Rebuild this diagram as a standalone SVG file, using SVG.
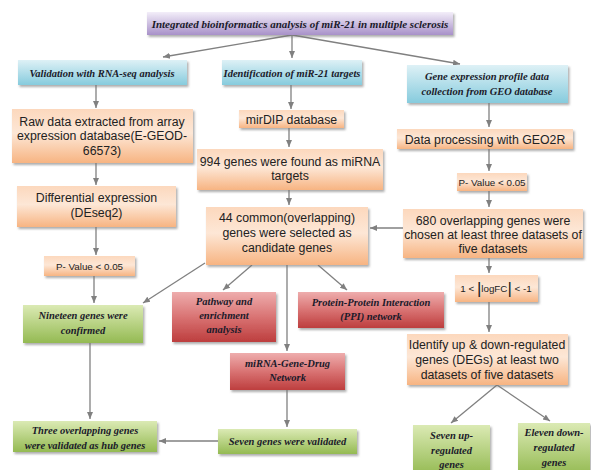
<svg xmlns="http://www.w3.org/2000/svg" width="591" height="470" viewBox="0 0 591 470">
<style>
.box{stroke:none;filter:url(#sh)}
.or{fill:url(#gOr)}
.bl{fill:url(#gBl)}
.gr{fill:url(#gGr)}
.rd{fill:url(#gRd)}
.pu{fill:url(#gPu)}
.hd{font-family:"Liberation Serif",serif;font-weight:bold;font-style:italic;font-size:10.5px;fill:#1a1a2a;text-anchor:middle}
.ttl{font-size:11px}
.tx{font-family:"Liberation Sans",Arial,sans-serif;font-size:12.3px;fill:#222;text-anchor:middle}
.sm{font-family:"Liberation Sans",Arial,sans-serif;font-size:9.8px;fill:#222;text-anchor:middle}
.cn{stroke:#808080;stroke-width:1.3;fill:none;marker-end:url(#ah)}
</style>
<defs>
<linearGradient id="gOr" x1="0" y1="0" x2="0" y2="1"><stop offset="0" stop-color="#fcd8bd"/><stop offset="0.45" stop-color="#fde7d6"/><stop offset="1" stop-color="#f7b482"/></linearGradient>
<linearGradient id="gBl" x1="0" y1="0" x2="0" y2="1"><stop offset="0" stop-color="#def1f6"/><stop offset="1" stop-color="#86cbdd"/></linearGradient>
<linearGradient id="gGr" x1="0" y1="0" x2="0" y2="1"><stop offset="0" stop-color="#dbeab4"/><stop offset="1" stop-color="#94ba52"/></linearGradient>
<linearGradient id="gRd" x1="0" y1="0" x2="0" y2="1"><stop offset="0" stop-color="#eeadad"/><stop offset="0.5" stop-color="#d97373"/><stop offset="1" stop-color="#bd3e3e"/></linearGradient>
<linearGradient id="gPu" x1="0" y1="0" x2="0" y2="1"><stop offset="0" stop-color="#f3eef9"/><stop offset="1" stop-color="#a891c9"/></linearGradient>
<filter id="sh" x="-10%" y="-10%" width="120%" height="130%"><feDropShadow dx="1.5" dy="2" stdDeviation="1.2" flood-color="#777" flood-opacity="0.6"/></filter>
<marker id="ah" markerWidth="8" markerHeight="8" refX="7" refY="4" orient="auto" markerUnits="userSpaceOnUse"><path d="M0,1 L7,4 L0,7 Z" fill="#808080"/></marker>
</defs>

<g id="connectors">
<path class="cn" d="M292,35 L163,57"/>
<path class="cn" d="M292,35 L292,58"/>
<path class="cn" d="M292,35 L460,64"/>
<path class="cn" d="M96,85 L96,108"/>
<path class="cn" d="M96,163 L96,185"/>
<path class="cn" d="M96,227 L96,255"/>
<path class="cn" d="M94,276 L94,303"/>
<path class="cn" d="M90,343 L90,419"/>
<path class="cn" d="M218,441 L159,441"/>
<path class="cn" d="M291,85 L291,109"/>
<path class="cn" d="M289,128 L289,147"/>
<path class="cn" d="M289,190 L289,205"/>
<path class="cn" d="M205,263 L143,303"/>
<path class="cn" d="M252,265 L223,290"/>
<path class="cn" d="M318,265 L347,290"/>
<path class="cn" d="M287,265 L287,351"/>
<path class="cn" d="M287,390 L287,427"/>
<path class="cn" d="M403,228 L370,228"/>
<path class="cn" d="M489,103 L489,127"/>
<path class="cn" d="M489,149 L489,171"/>
<path class="cn" d="M489,191 L489,207"/>
<path class="cn" d="M489,258 L489,273"/>
<path class="cn" d="M489,302 L489,332"/>
<path class="cn" d="M497,385 L451,423"/>
<path class="cn" d="M497,385 L550,421"/>
</g>

<g id="title"><rect class="box pu" x="147" y="12" width="306" height="23"/><text class="hd ttl" x="300" y="27.5">Integrated bioinformatics analysis of miR-21 in multiple sclerosis</text></g>

<g id="validation"><rect class="box bl" x="18" y="60" width="169" height="25"/><text class="hd" x="102" y="76.5">Validation with RNA-seq analysis</text></g>
<g id="identification"><rect class="box bl" x="222" y="60" width="140" height="25"/><text class="hd" x="292" y="76.5">Identification of miR-21 targets</text></g>
<g id="geneexpr"><rect class="box bl" x="407" y="65" width="161" height="38"/><text class="hd" x="487" y="80">Gene expression profile data</text><text class="hd" x="487" y="95">collection from GEO database</text></g>

<g id="rawdata"><rect class="box or" x="12" y="109" width="181" height="54"/><text class="tx" x="102" y="126">Raw data extracted from array</text><text class="tx" x="102" y="140">expression database(E-GEOD-</text><text class="tx" x="102" y="155">66573)</text></g>
<g id="diffexpr"><rect class="box or" x="17" y="186" width="159" height="41"/><text class="tx" x="96.5" y="202">Differential expression</text><text class="tx" x="96.5" y="217">(DEseq2)</text></g>
<g id="pval1"><rect class="box or" x="44" y="256" width="91" height="20"/><text class="sm" x="89.5" y="270">P- Value &lt; 0.05</text></g>
<g id="nineteen"><rect class="box gr" x="23" y="305" width="120" height="38"/><text class="hd" x="83" y="319">Nineteen genes were</text><text class="hd" x="83" y="334">confirmed</text></g>
<g id="threeoverlap"><rect class="box gr" x="13" y="421" width="144" height="31"/><text class="hd" x="85" y="434">Three overlapping genes</text><text class="hd" x="85" y="449">were validated as hub genes</text></g>

<g id="mirdip"><rect class="box or" x="239" y="110" width="105" height="18"/><text class="tx" x="291.5" y="123.5">mirDIP database</text></g>
<g id="genes994"><rect class="box or" x="197" y="149" width="186" height="41"/><text class="tx" x="290" y="166">994 genes were found as miRNA</text><text class="tx" x="290" y="180">targets</text></g>
<g id="common44"><rect class="box or" x="206" y="207" width="162" height="58"/><text class="tx" x="287" y="222">44 common(overlapping)</text><text class="tx" x="287" y="237">genes were selected as</text><text class="tx" x="287" y="252">candidate genes</text></g>
<g id="pathway"><rect class="box rd" x="172" y="292" width="104" height="50"/><text class="hd" x="224" y="305">Pathway and</text><text class="hd" x="224" y="319">enrichment</text><text class="hd" x="224" y="333">analysis</text></g>
<g id="ppi"><rect class="box rd" x="298" y="292" width="146" height="36"/><text class="hd" x="371" y="306">Protein-Protein Interaction</text><text class="hd" x="371" y="320">(PPI) network</text></g>
<g id="mirnanet"><rect class="box rd" x="230" y="353" width="115" height="37"/><text class="hd" x="287.5" y="367">miRNA-Gene-Drug</text><text class="hd" x="287.5" y="381">Network</text></g>
<g id="sevenvalid"><rect class="box gr" x="218" y="429" width="139" height="25"/><text class="hd" x="287.5" y="445">Seven genes were validated</text></g>

<g id="dataproc"><rect class="box or" x="397" y="129" width="176" height="20"/><text class="tx" x="485" y="143.5">Data processing with GEO2R</text></g>
<g id="pval2"><rect class="box or" x="457" y="173" width="70" height="18"/><text class="sm" x="492" y="186">P- Value &lt; 0.05</text></g>
<g id="overlap680"><rect class="box or" x="403" y="209" width="180" height="49"/><text class="tx" x="493" y="225">680 overlapping genes were</text><text class="tx" x="493" y="239">chosen at least three datasets of</text><text class="tx" x="493" y="253">five datasets</text></g>
<g id="logfc"><rect class="box or" x="455" y="275" width="83" height="27"/><text class="sm" x="496" y="292">1 &lt; <tspan font-size="17" dy="1.5">|</tspan><tspan dy="-1.5">logFC</tspan><tspan font-size="17" dy="1.5">|</tspan><tspan dy="-1.5"> &lt; -1</tspan></text></g>
<g id="identify"><rect class="box or" x="407" y="334" width="161" height="51"/><text class="tx" x="487" y="349">Identify up &amp; down-regulated</text><text class="tx" x="487" y="364">genes (DEGs) at least two</text><text class="tx" x="487" y="379">datasets of five datasets</text></g>
<g id="sevenup"><rect class="box gr" x="413" y="425" width="77" height="50"/><text class="hd" x="451.5" y="439">Seven up-</text><text class="hd" x="451.5" y="454">regulated</text><text class="hd" x="451.5" y="468">genes</text></g>
<g id="elevendown"><rect class="box gr" x="518" y="423" width="72" height="52"/><text class="hd" x="554" y="436">Eleven down-</text><text class="hd" x="554" y="451">regulated</text><text class="hd" x="554" y="466">genes</text></g>
</svg>
